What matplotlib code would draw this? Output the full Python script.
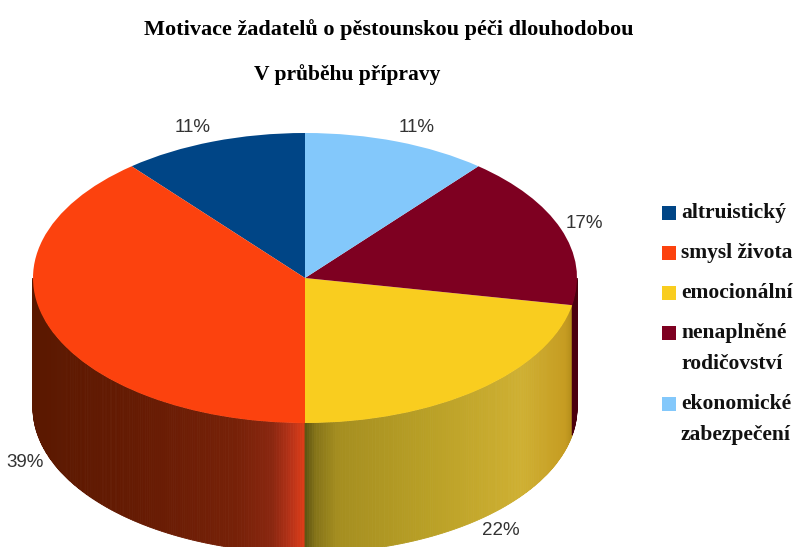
import matplotlib
matplotlib.use('Agg')
import matplotlib.pyplot as plt
import numpy as np
from matplotlib.patches import Polygon
from matplotlib.transforms import Affine2D
from matplotlib.colors import to_rgb

# data
labels = ['altruistický', 'smysl života', 'emocionální',
          'nenaplněné\nrodičovství', 'ekonomické\nzabezpečení']
values = [11, 39, 22, 17, 11]
colors = ['#004586', '#fc420e', '#f9cd1f', '#7e0021', '#83c8fb']
title1 = 'Motivace žadatelů o pěstounskou péči dlouhodobou'
title2 = 'V průběhu přípravy'

# shading of the side wall, by x position (-1 left .. 1 right)
wall_shades = {
    1: [(-1.0, '#5a1800'), (-0.6, '#661b03'), (-0.25, '#772108'),
        (-0.12, '#8a2710'), (-0.05, '#b83318'), (0.0, '#de3d18')],
    2: [(0.0, '#5c5212'), (0.04, '#857418'), (0.12, '#a58e20'),
        (0.45, '#b9a026'), (0.8, '#cfb032'), (0.96, '#c69c22'), (1.0, '#a88416')],
    3: [(0.9, '#5c0012'), (1.0, '#4a000e')],
}

W, H = 801, 547
cx, cy = 305, H - 278
rx, ry = 272, 145
depth = 130

fig = plt.figure(figsize=(8.01, 5.47), dpi=100)
ax = fig.add_axes([0, 0, 1, 1])

wedges, _ = ax.pie(values, colors=colors, startangle=90, counterclock=True,
                   wedgeprops=dict(linewidth=0))
squash = Affine2D().scale(rx, ry).translate(cx, cy) + ax.transData
for w in wedges:
    w.set_transform(squash)
    w.set_zorder(3)

# side walls of the 3d pie (front half only)
for i, w in enumerate(wedges):
    a = max(w.theta1, 180)
    b = min(w.theta2, 360)
    if b <= a:
        continue
    stops = wall_shades[i]
    us = [s[0] for s in stops]
    cols = np.array([to_rgb(s[1]) for s in stops])
    ts = np.linspace(a, b, int((b - a) * 2) + 2)
    for t0, t1 in zip(ts[:-1], ts[1:]):
        tt = np.radians(np.linspace(t0, t1, 3))
        xs = cx + rx * np.cos(tt)
        ys = cy + ry * np.sin(tt)
        poly = np.concatenate([np.c_[xs, ys], np.c_[xs[::-1], ys[::-1] - depth]])
        u = np.cos(np.radians((t0 + t1) / 2))
        c = [np.interp(u, us, cols[:, k]) for k in range(3)]
        ax.add_patch(Polygon(poly, closed=True, fc=c, ec=c, lw=0.6, zorder=2))

# percent labels
for w, v in zip(wedges, values):
    m = np.radians((w.theta1 + w.theta2) / 2)
    x = cx + 1.02 * rx * np.cos(m)
    y = cy + 1.1 * ry * np.sin(m)
    if np.sin(m) < 0:
        y -= depth
    ax.text(x, y, f'{v}%', ha='left' if np.cos(m) > 0 else 'right', va='center',
            fontsize=13.5, color='#333333', family='Liberation Sans')

# titles
ax.text(389, H - 30, title1, ha='center', va='center', family='Liberation Serif',
        weight='bold', fontsize=16)
ax.text(347, H - 75, title2, ha='center', va='center', family='Liberation Serif',
        weight='bold', fontsize=15.5)

# legend
y = H - 213
for lab, col in zip(labels, colors):
    ax.scatter([669], [y], marker='s', s=90, color=col, zorder=4, linewidths=0)
    lines = lab.split('\n')
    for k, ln in enumerate(lines):
        ax.text(681, y - 5 - 31 * k, ln, ha='left', va='baseline', family='Liberation Serif',
                weight='bold', fontsize=15.5, color='#111111')
    y -= 40 + 31 * (len(lines) - 1)

ax.set_xlim(0, W)
ax.set_ylim(0, H)
ax.set_aspect('auto')
ax.axis('off')

plt.savefig('out.png', dpi=100)
